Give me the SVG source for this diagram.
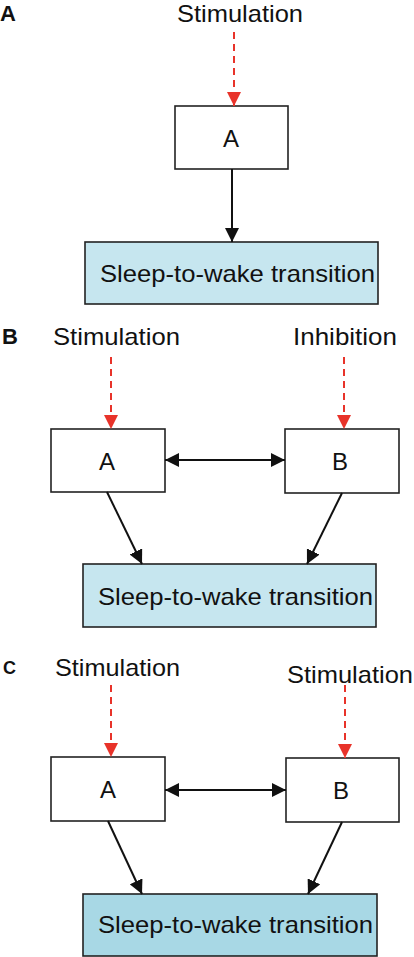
<svg xmlns="http://www.w3.org/2000/svg" width="414" height="957" viewBox="0 0 414 957">
<style>
.bg{fill:#ffffff}
.box{fill:#ffffff;stroke:#222222;stroke-width:1.6}
.out1{fill:#c6e6ef;stroke:#222222;stroke-width:1.6}
.out2{fill:#a8d8e5;stroke:#222222;stroke-width:1.6}
.lbl{font-family:"Liberation Sans",Arial,sans-serif;font-size:24px;fill:#111111}
.node{font-family:"Liberation Sans",Arial,sans-serif;font-size:24px;fill:#111111;text-anchor:middle}
.panel{font-family:"Liberation Sans",Arial,sans-serif;font-size:22px;font-weight:bold;fill:#111111}
.blk{stroke:#111111;stroke-width:2;fill:none}
.red{stroke:#e8332a;stroke-width:2;fill:none;stroke-dasharray:7,5}
</style>
<defs>
<marker id="ab" markerUnits="userSpaceOnUse" markerWidth="14" markerHeight="14" refX="13" refY="6.5" orient="auto-start-reverse" viewBox="0 0 13 13">
<path d="M0,0 L13,6.5 L0,13 z" fill="#111111"/>
</marker>
<marker id="ar" markerUnits="userSpaceOnUse" markerWidth="14" markerHeight="14" refX="13" refY="6.5" orient="auto" viewBox="0 0 13 13">
<path d="M0,0 L13,6.5 L0,13 z" fill="#e8332a"/>
</marker>
</defs>
<rect class="bg" x="0" y="0" width="414" height="957"/>

<g id="panelA">
<text class="panel" x="0" y="21">A</text>
<text class="lbl" x="177" y="22" textLength="126" lengthAdjust="spacingAndGlyphs">Stimulation</text>
<g id="A-nodeA"><rect class="box" x="175" y="106" width="113" height="63"/><text class="node" x="231" y="147">A</text></g>
<g id="A-out"><rect class="out1" x="85" y="242" width="293" height="62"/><text class="lbl" x="100" y="282" textLength="275" lengthAdjust="spacingAndGlyphs">Sleep-to-wake transition</text></g>
</g>

<g id="panelB">
<text class="panel" x="2" y="344">B</text>
<text class="lbl" x="53" y="345" textLength="127" lengthAdjust="spacingAndGlyphs">Stimulation</text>
<text class="lbl" x="293" y="345" textLength="104" lengthAdjust="spacingAndGlyphs">Inhibition</text>
<g id="B-nodeA"><rect class="box" x="51" y="429" width="114" height="63"/><text class="node" x="107" y="470">A</text></g>
<g id="B-nodeB"><rect class="box" x="285" y="429" width="114" height="64"/><text class="node" x="340" y="470">B</text></g>
<g id="B-out"><rect class="out1" x="83" y="564" width="293" height="63"/><text class="lbl" x="98" y="605" textLength="275" lengthAdjust="spacingAndGlyphs">Sleep-to-wake transition</text></g>
</g>

<g id="panelC">
<text class="panel" x="3" y="674" style="font-size:18px">C</text>
<text class="lbl" x="55" y="676" textLength="125" lengthAdjust="spacingAndGlyphs">Stimulation</text>
<text class="lbl" x="287" y="683" textLength="126" lengthAdjust="spacingAndGlyphs">Stimulation</text>
<g id="C-nodeA"><rect class="box" x="51" y="757" width="114" height="64"/><text class="node" x="108" y="798">A</text></g>
<g id="C-nodeB"><rect class="box" x="286" y="758" width="113" height="64"/><text class="node" x="341" y="799">B</text></g>
<g id="C-out"><rect class="out2" x="83" y="894" width="294" height="62"/><text class="lbl" x="98" y="933" textLength="275" lengthAdjust="spacingAndGlyphs">Sleep-to-wake transition</text></g>
</g>

<g id="connectors">
<line class="red" x1="234" y1="32" x2="234" y2="106" marker-end="url(#ar)"/>
<line class="blk" x1="232" y1="169" x2="232" y2="242" marker-end="url(#ab)"/>

<line class="red" x1="111" y1="357" x2="111" y2="429" marker-end="url(#ar)"/>
<line class="red" x1="344" y1="357" x2="344" y2="429" marker-end="url(#ar)"/>
<line class="blk" x1="165" y1="460" x2="285" y2="460" marker-start="url(#ab)" marker-end="url(#ab)"/>
<line class="blk" x1="107" y1="492" x2="142" y2="564" marker-end="url(#ab)"/>
<line class="blk" x1="342" y1="493" x2="307" y2="564" marker-end="url(#ab)"/>

<line class="red" x1="111" y1="685" x2="111" y2="757" marker-end="url(#ar)"/>
<line class="red" x1="345" y1="685" x2="345" y2="758" marker-end="url(#ar)"/>
<line class="blk" x1="165" y1="790" x2="286" y2="790" marker-start="url(#ab)" marker-end="url(#ab)"/>
<line class="blk" x1="108" y1="821" x2="142" y2="894" marker-end="url(#ab)"/>
<line class="blk" x1="342" y1="822" x2="308" y2="894" marker-end="url(#ab)"/>
</g>
</svg>
